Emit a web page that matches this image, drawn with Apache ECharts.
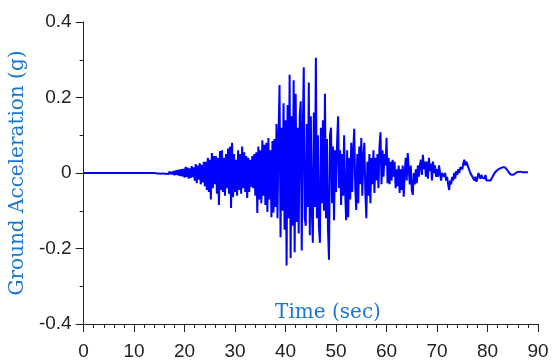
<!DOCTYPE html>
<html>
<head>
<meta charset="utf-8">
<script src="https://cdn.jsdelivr.net/npm/echarts@6/dist/echarts.min.js"></script>
<style>
  html, body { margin: 0; padding: 0; background: #fff; }
  #chart { width: 552px; height: 363px; }
</style>
</head>
<body>
<div id="chart"></div>
<script>
// Axis tick values
const timeTicks = [0, 10, 20, 30, 40, 50, 60, 70, 80, 90];
const accelTicks = [-0.4, -0.2, 0, 0.2, 0.4];

// Quiet lead-in before the recorded motion (time s, acceleration g)
const leadInTime = [0];
const leadInAccel = [0];

// Recorded ground acceleration (g), sampled every 0.2 s from 14 s
const recordStart = 14;
const sampleStep = 0.2;
const accel = [
  0, 0.001, -0.001, 0.002, -0.001, 0.001, -0.002, 0.002, -0.001, 0.002,
  -0.002, 0.003, -0.002, 0.002, -0.003, 0.004, -0.003, 0.003, -0.004, 0.005,
  -0.006, 0.007, -0.005, 0.008, -0.007, 0.009, -0.008, 0.01, -0.009, 0.011,
  -0.012, 0.016, -0.01, 0.014, -0.015, 0.012, -0.013, 0.018, -0.011, 0.015,
  -0.02, 0.024, -0.027, 0.02, -0.018, 0.026, -0.03, 0.022, -0.025, 0.03,
  -0.035, 0.03, -0.045, 0.04, -0.05, 0.035, -0.07, 0.053, -0.04, 0.045,
  -0.03, 0.045, -0.055, 0.04, -0.085, 0.058, -0.045, 0.06, -0.05, 0.04,
  -0.06, 0.05, -0.04, 0.065, -0.055, 0.07, -0.093, 0.08, -0.064, 0.05,
  -0.05, 0.035, -0.06, 0.06, -0.045, 0.05, -0.055, 0.07, -0.04, 0.055,
  -0.05, 0.045, -0.066, 0.04, -0.05, 0.035, -0.037, 0.045, -0.04, 0.05,
  -0.06, 0.055, -0.106, 0.07, -0.07, 0.06, -0.08, 0.087, -0.06, 0.075,
  -0.085, 0.08, -0.103, 0.093, -0.07, 0.06, -0.117, 0.085, -0.105, 0.09,
  -0.09, 0.13, -0.12, 0.09, 0.233, -0.17, 0.12, -0.1, 0.185, -0.15,
  0.14, -0.245, 0.18, -0.12, 0.26, -0.225, 0.15, -0.14, 0.246, -0.21,
  0.21, -0.13, 0.12, -0.16, 0.15, 0.19, -0.205, 0.1, 0.28, -0.12,
  -0.14, 0.13, -0.09, 0.24, -0.165, 0.15, -0.1, -0.185, 0.16, -0.09,
  0.305, -0.12, 0.1, -0.14, -0.185, 0.12, -0.08, 0.14, -0.1, 0.21,
  -0.12, 0.09, -0.15, -0.23, 0.1, 0.12, -0.08, 0.07, -0.125, 0.06,
  -0.05, 0.08, 0.15, -0.04, 0.06, -0.085, 0.05, -0.06, 0.1, -0.05,
  -0.125, 0.06, -0.117, 0.04, -0.07, 0.08, -0.05, 0.06, 0.117, -0.04,
  -0.098, 0.05, -0.08, 0.07, -0.03, 0.093, -0.06, 0.04, 0.08, -0.05,
  -0.12, 0.03, -0.06, 0.05, -0.08, 0.04, -0.03, 0.06, -0.053, 0.04,
  -0.02, 0.05, -0.04, 0.07, 0.108, -0.03, 0.06, -0.01, 0.05, 0.02,
  0.093, -0.027, 0.04, -0.03, 0.03, -0.02, 0.035, -0.01, 0.03, -0.04,
  0.01, -0.035, 0.02, -0.053, 0.01, -0.045, 0.02, -0.063, 0, 0.04,
  -0.02, 0.053, 0.01, -0.03, 0.02, -0.045, -0.058, 0, -0.03, 0.01,
  -0.027, 0.02, -0.01, 0.02, 0.035, -0.005, 0.048, 0.01, 0.03, -0.01,
  0.03, -0.015, 0.04, 0.005, 0.025, -0.02, 0.03, 0, 0.02, -0.01,
  0.01, -0.01, 0.02, 0, -0.02, 0, 0.005, -0.01, 0, -0.02,
  -0.01, -0.03, -0.045, -0.02, -0.03, -0.01, -0.02, 0, -0.015, 0.005,
  -0.005, 0.01, 0, 0.015, 0.02, 0.01, 0.025, 0.035, 0.02, 0.03,
  0.027, 0.015, 0.02, 0, 0.005, -0.01, -0.005, -0.02, -0.01, -0.023,
  -0.015, 0, -0.005, -0.015, -0.005, -0.012, -0.01, -0.015, -0.005, -0.02,
  -0.015, -0.02, -0.018, -0.02, -0.015, -0.01, -0.005, 0, 0.003, 0.006,
  0.008, 0.01, 0.012, 0.013, 0.015, 0.015, 0.014, 0.015, 0.013, 0.01,
  0.006, 0.002, -0.002, -0.004, -0.005, -0.005, -0.004, -0.002, 0, 0.002,
  0.003, 0.003, 0.003, 0.003, 0.002, 0.002, 0.002, 0.002, 0.002, 0.002,
  0.002
];

const seriesData = leadInTime.map((t, i) => [t, leadInAccel[i]])
  .concat(accel.map((v, i) => [+(recordStart + i * sampleStep).toFixed(1), v]));

const axisColor = '#222';
const titleBlue = '#1976d2';

const chart = echarts.init(document.getElementById('chart'), null, { renderer: 'canvas' });
chart.setOption({
  animation: false,
  backgroundColor: '#fff',
  grid: { left: 80, right: 14, top: 22, bottom: 39 },
  xAxis: {
    type: 'value',
    min: timeTicks[0],
    max: timeTicks[timeTicks.length - 1],
    interval: timeTicks[1] - timeTicks[0],
    splitLine: { show: false },
    axisLine: { onZero: false, lineStyle: { color: axisColor, width: 1 } },
    axisTick: { show: true, inside: false, length: 8, lineStyle: { color: axisColor } },
    minorTick: { show: true, splitNumber: 5, length: 4, lineStyle: { color: axisColor } },
    axisLabel: {
      margin: 18,
      color: axisColor,
      fontFamily: 'Liberation Sans, Arial, sans-serif',
      fontSize: 19
    }
  },
  yAxis: {
    type: 'value',
    min: accelTicks[0],
    max: accelTicks[accelTicks.length - 1],
    interval: accelTicks[1] - accelTicks[0],
    splitLine: { show: false },
    axisLine: { show: true, lineStyle: { color: axisColor, width: 1 } },
    axisTick: { show: true, inside: false, length: 8, lineStyle: { color: axisColor } },
    minorTick: { show: true, splitNumber: 2, length: 4, lineStyle: { color: axisColor } },
    axisLabel: {
      margin: 12,
      color: axisColor,
      fontFamily: 'Liberation Sans, Arial, sans-serif',
      fontSize: 19,
      formatter: v => String(+v.toFixed(1))
    },
    name: 'Ground Acceleration (g)',
    nameLocation: 'middle',
    nameRotate: 90,
    nameGap: 52,
    nameTextStyle: {
      color: titleBlue,
      fontFamily: 'DejaVu Serif, serif',
      fontSize: 20
    }
  },
  graphic: [{
    type: 'text',
    x: 328,
    y: 313,
    style: {
      text: 'Time (sec)',
      fill: titleBlue,
      font: '20px "DejaVu Serif", serif',
      align: 'center',
      verticalAlign: 'middle'
    }
  }],
  series: [{
    type: 'line',
    data: seriesData,
    showSymbol: false,
    sampling: null,
    lineStyle: { color: '#0000ff', width: 2 },
    z: 3
  }]
});
</script>
</body>
</html>
